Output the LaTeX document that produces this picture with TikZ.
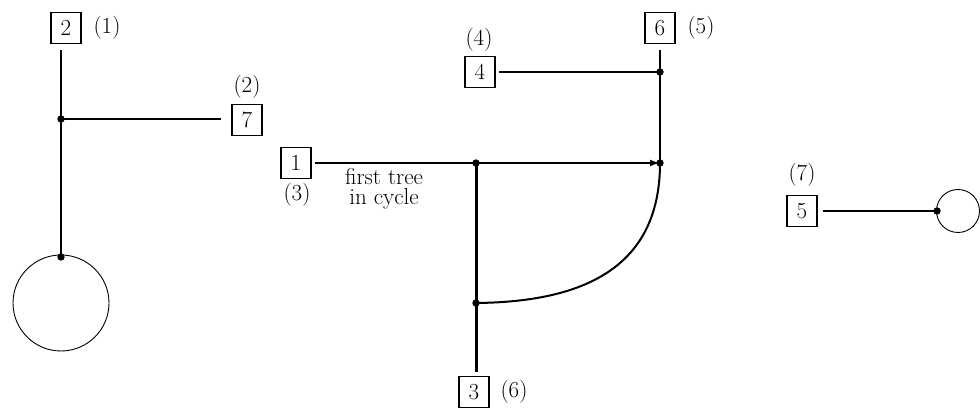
\documentclass[tikz,border=0pt]{standalone}
\usetikzlibrary{arrows.meta}
\begin{document}
\begin{tikzpicture}[x=1pt,y=-1pt,
  every node/.style={font=\fontsize{23}{20}\selectfont},
  numbox/.style={draw, line width=1.8pt, minimum width=30pt, minimum height=31pt, inner sep=0pt},
  edge/.style={line width=2pt},
  thickedge/.style={line width=3pt},
  ring/.style={draw, circle, line width=0.9pt, inner sep=0pt},
  dotfill/.style={fill=black}]
\useasboundingbox (0,0) rectangle (980,411);

% boxes and labels
\node[numbox] (b2) at (66,28) {2};
\node (l1) at (107,28) {(1)};
\node[numbox] (b7) at (247,120) {7};
\node (l2) at (247,87) {(2)};
\node[numbox] (b1) at (296,163) {1};
\node (l3) at (297,195) {(3)};
\node[align=center] (ft) at (384,189) {first tree\\in cycle};
\node[numbox] (b4) at (480,72) {4};
\node (l4) at (479,40) {(4)};
\node[numbox] (b6) at (660,28) {6};
\node (l5) at (701,28) {(5)};
\node[numbox] (b3) at (474,392) {3};
\node (l6) at (514,392) {(6)};
\node[numbox] (b5) at (802,211) {5};
\node (l7) at (802,175) {(7)};

% junctions
\coordinate (j1) at (61,119);
\coordinate (j2) at (61,257);
\coordinate (j3) at (476,163);
\coordinate (j4) at (476,303);
\coordinate (j5) at (660,72);
\coordinate (j6) at (660,163);
\coordinate (j7) at (937,211);

% circles
\node[ring, minimum size=96pt] (c1) at (61,303) {};
\node[ring, minimum size=43pt] (c2) at (958,211) {};

% connectors
\draw[edge, shorten <=6pt] (b2.south -| j1) -- (j2);
\draw[edge, shorten >=10pt] (j1) -- (j1 -| b7.west);
\draw[edge, shorten <=3pt, -{Latex[length=10pt,width=7pt]}] (b1.east) -- (j6);
\draw[thickedge, shorten >=4pt] (j3) -- (b3.north -| j3);
\draw[edge] (j4) .. controls (580,302) and (660,270) .. (j6);
\draw[edge, shorten <=3pt] (b4.east) -- (j5);
\draw[edge, shorten <=6pt] (b6.south) -- (j6);
\draw[edge, shorten <=5pt] (b5.east) -- (j7);

% dots
\foreach \p in {j1,j2,j3,j4,j5,j6,j7}
  \fill[dotfill] (\p) circle[radius=3.7pt];
\end{tikzpicture}
\end{document}
